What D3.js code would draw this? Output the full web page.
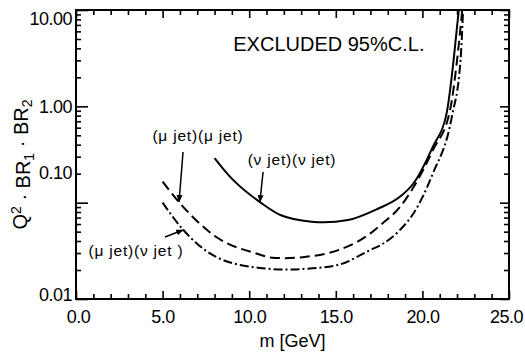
<!DOCTYPE html>
<html>
<head>
<meta charset="utf-8">
<script src="https://cdn.jsdelivr.net/npm/d3@7"></script>
<style>
  body { margin: 0; background: #fff; }
  text { font-family: "Liberation Sans", Arial, sans-serif; fill: #000; }
</style>
</head>
<body>
<div id="chart"></div>
<script>
// axis ticks
var xTicks = [0, 5, 10, 15, 20, 25];
var xTickLabels = ["0.0", "5.0", "10.0", "15.0", "20.0", "25.0"];
var yTicks = [0.01, 0.1, 1, 10];
var yTickLabels = ["0.01", "0.10", "1.00", "10.00"];

// (nu jet)(nu jet)  - solid
var nuNuMass  = [8.0, 8.9, 10.2, 10.6, 11.8, 13.6, 14.3, 15.7, 17.4, 18.7, 19.5, 20.6, 21.4, 21.8, 22.1];
var nuNuLimit = [0.29, 0.185, 0.115, 0.102, 0.0745, 0.0635, 0.0625, 0.066, 0.086, 0.115, 0.16, 0.38, 0.85, 3.0, 10];

// (mu jet)(mu jet)  - dashed
var muMuMass  = [5.0, 6.2, 8.1, 10.6, 11.2, 12.1, 13.1, 15.1, 17.0, 17.6, 18.7, 19.5, 20.6, 21.6, 22.0, 22.3];
var muMuLimit = [0.165, 0.09, 0.044, 0.029, 0.027, 0.0265, 0.0272, 0.032, 0.048, 0.059, 0.09, 0.146, 0.35, 0.92, 3.0, 10];

// (mu jet)(nu jet)  - dash-dot
var muNuMass  = [5.0, 6.2, 8.1, 10.6, 11.2, 12.2, 13.1, 15.1, 17.0, 17.6, 18.7, 19.5, 20.6, 21.7, 22.2, 22.35];
var muNuLimit = [0.10, 0.052, 0.0273, 0.021, 0.0205, 0.0202, 0.0205, 0.0225, 0.0323, 0.0364, 0.052, 0.078, 0.20, 0.78, 3.0, 10];

var curveNames = ["(μ jet)(μ jet)", "(ν jet)(ν jet)", "(μ jet)(ν jet )"];

function zip(xs, ys) {
  return xs.map(function(d, i) { return {m: d, v: ys[i]}; });
}

function drawChart() {
  var margin = {top: 10, right: 16, bottom: 56, left: 76},
      width = 525 - margin.left - margin.right,
      height = 355 - margin.top - margin.bottom;

  var x = d3.scaleLinear().domain([0, 25]).range([0, width]);
  var y = d3.scaleLog().domain([0.01, 10]).range([height, 0]);

  var svg = d3.select("#chart").append("svg")
      .attr("width", width + margin.left + margin.right)
      .attr("height", height + margin.top + margin.bottom)
    .append("g")
      .attr("transform", "translate(" + margin.left + "," + margin.top + ")");

  var xMinor = x.ticks(25).filter(function(d) { return d % 5 !== 0; });
  var yMinor = y.ticks().filter(function(d) { return yTicks.indexOf(d) < 0; });

  function styleAxis(g) {
    g.select(".domain").remove();
    g.selectAll("line").attr("stroke", "#000").attr("stroke-width", 1.6);
    g.selectAll("text").style("font-size", "18px").style("letter-spacing", "-0.5px").attr("fill", "#000");
  }

  // bottom
  var xLabelNudge = {"0.0": 2, "25.0": -3};
  svg.append("g")
      .attr("transform", "translate(0," + height + ")")
      .call(d3.axisBottom(x).tickValues(xTicks)
        .tickFormat(function(d, i) { return xTickLabels[i]; })
        .tickSizeInner(-8).tickSizeOuter(0).tickPadding(11))
      .call(styleAxis)
      .call(function(g) {
        g.selectAll("text")
          .attr("x", function(d, i) { return xLabelNudge[xTickLabels[i]] || 0; });
      });
  svg.append("g")
      .attr("transform", "translate(0," + height + ")")
      .call(d3.axisBottom(x).tickValues(xMinor).tickFormat("")
        .tickSizeInner(-5).tickSizeOuter(0))
      .call(styleAxis);

  // top (mirror)
  svg.append("g")
      .call(d3.axisTop(x).tickValues(xTicks).tickFormat("")
        .tickSizeInner(-8).tickSizeOuter(0))
      .call(styleAxis);
  svg.append("g")
      .call(d3.axisTop(x).tickValues(xMinor).tickFormat("")
        .tickSizeInner(-5).tickSizeOuter(0))
      .call(styleAxis);

  // left
  var labelNudge = {"10.00": 9, "0.10": -30, "0.01": -4};
  svg.append("g")
      .call(d3.axisLeft(y).tickValues(yTicks)
        .tickFormat(function(d, i) { return yTickLabels[i]; })
        .tickSizeInner(-12).tickSizeOuter(0).tickPadding(4))
      .call(styleAxis)
      .call(function(g) {
        g.selectAll("text")
          .attr("y", function(d, i) { return labelNudge[yTickLabels[i]] || 0; });
      });
  svg.append("g")
      .call(d3.axisLeft(y).tickValues(yMinor).tickFormat("")
        .tickSizeInner(-5).tickSizeOuter(0))
      .call(styleAxis);

  // right (mirror)
  svg.append("g")
      .attr("transform", "translate(" + width + ",0)")
      .call(d3.axisRight(y).tickValues(yTicks).tickFormat("")
        .tickSizeInner(-9).tickSizeOuter(0))
      .call(styleAxis);
  svg.append("g")
      .attr("transform", "translate(" + width + ",0)")
      .call(d3.axisRight(y).tickValues(yMinor).tickFormat("")
        .tickSizeInner(-5).tickSizeOuter(0))
      .call(styleAxis);

  svg.append("rect")
      .attr("width", width)
      .attr("height", height)
      .attr("fill", "none")
      .attr("stroke", "#000")
      .attr("stroke-width", 2);

  // axis titles
  svg.append("text")
      .attr("x", width / 2)
      .attr("y", height + 48)
      .style("text-anchor", "middle")
      .style("font-size", "18px")
      .text("m  [GeV]");

  var yTitle = svg.append("text")
      .attr("transform", "translate(" + (20 - margin.left) + "," + (height / 2 + 10) + ") rotate(-90)")
      .attr("dy", "0.35em")
      .style("text-anchor", "middle")
      .style("font-size", "20px");
  yTitle.append("tspan").text("Q");
  yTitle.append("tspan").attr("dy", "-0.45em").style("font-size", "14px").text("2");
  yTitle.append("tspan").attr("dy", "0.45em").text(" · BR");
  yTitle.append("tspan").attr("dy", "0.3em").style("font-size", "14px").text("1");
  yTitle.append("tspan").attr("dy", "-0.3em").text(" · BR");
  yTitle.append("tspan").attr("dy", "0.3em").style("font-size", "14px").text("2");

  // curves
  svg.append("clipPath").attr("id", "clip")
    .append("rect").attr("width", width).attr("height", height);

  var line = d3.line()
      .x(function(d) { return x(d.m); })
      .y(function(d) { return y(d.v); })
      .curve(d3.curveMonotoneX);

  var series = [
    {data: zip(muMuMass, muMuLimit), dash: "10,5"},
    {data: zip(nuNuMass, nuNuLimit), dash: null},
    {data: zip(muNuMass, muNuLimit), dash: "9,3,2,3"}
  ];

  svg.append("g").attr("clip-path", "url(#clip)")
    .selectAll(".curve")
    .data(series)
    .enter()
    .append("path")
      .attr("class", "curve")
      .attr("d", function(d) { return line(d.data); })
      .attr("fill", "none")
      .attr("stroke", "#000")
      .attr("stroke-width", 2)
      .attr("stroke-dasharray", function(d) { return d.dash; });

  // labels with leader lines (data coordinates)
  var notes = [
    {text: curveNames[0], lx: 7.04, ly: 0.437, from: [6.18, 0.336], to: [5.95, 0.102]},
    {text: curveNames[1], lx: 12.47, ly: 0.246, from: [10.8, 0.208], to: [10.62, 0.102]},
    {text: curveNames[2], lx: 3.46, ly: 0.028, from: [5.14, 0.044], to: [6.18, 0.052]}
  ];

  svg.append("defs").append("marker")
      .attr("id", "arrow")
      .attr("viewBox", "0 0 10 10")
      .attr("refX", 9).attr("refY", 5)
      .attr("markerWidth", 5).attr("markerHeight", 5)
      .attr("orient", "auto")
    .append("path")
      .attr("d", "M0,1L10,5L0,9Z")
      .attr("fill", "#000");

  svg.selectAll(".note")
      .data(notes)
      .enter()
      .append("text")
      .attr("class", "note")
      .attr("x", function(d) { return x(d.lx); })
      .attr("y", function(d) { return y(d.ly); })
      .style("text-anchor", "middle")
      .style("font-size", "15.5px")
      .style("letter-spacing", "0.8px")
      .text(function(d) { return d.text; });

  svg.selectAll(".leader")
      .data(notes)
      .enter()
      .append("line")
      .attr("class", "leader")
      .attr("x1", function(d) { return x(d.from[0]); })
      .attr("y1", function(d) { return y(d.from[1]); })
      .attr("x2", function(d) { return x(d.to[0]); })
      .attr("y2", function(d) { return y(d.to[1]); })
      .attr("stroke", "#000")
      .attr("stroke-width", 1.5)
      .attr("marker-end", "url(#arrow)");

  svg.append("text")
      .attr("x", x(14.6))
      .attr("y", 41)
      .style("text-anchor", "middle")
      .style("font-size", "20px")
      .text("EXCLUDED 95%C.L.");
}

drawChart();
</script>
</body>
</html>
